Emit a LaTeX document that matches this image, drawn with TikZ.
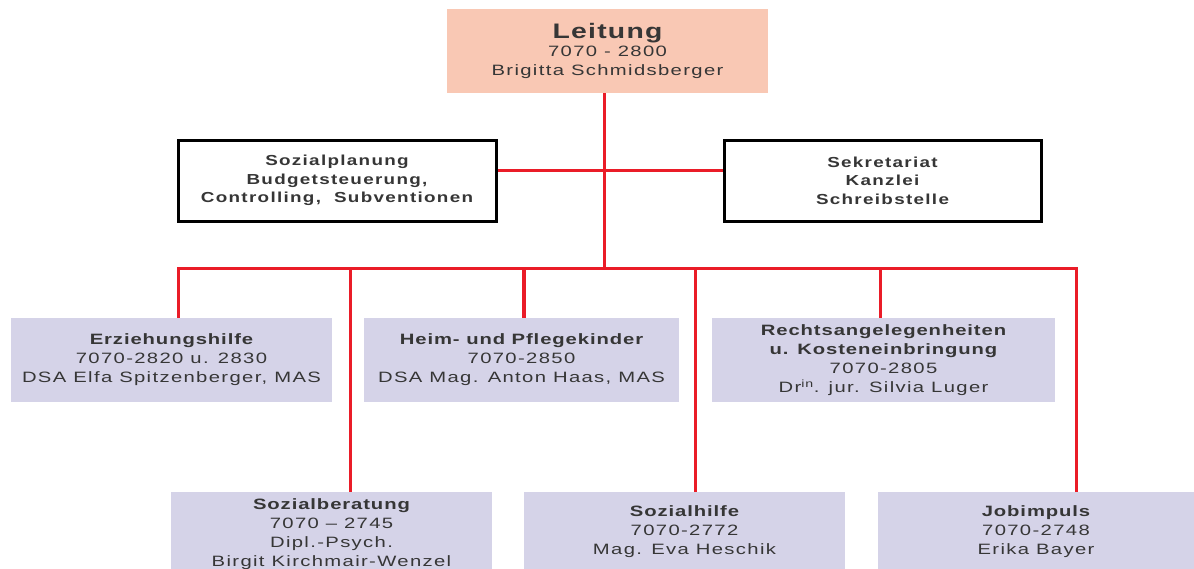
\documentclass[tikz,border=0pt]{standalone}
\usepackage{fontspec}
\setmainfont{Liberation Sans}[FakeStretch=1.35,LetterSpace=9,BoldFeatures={LetterSpace=6}]
\newfontfamily\wfont{Liberation Sans}[FakeStretch=1.3,LetterSpace=9]
\definecolor{salmon}{HTML}{F9C8B4}
\definecolor{lav}{HTML}{D5D3E8}
\definecolor{redline}{HTML}{EA1C28}
\definecolor{txt}{HTML}{363636}
\begin{document}
\begin{tikzpicture}[x=1pt,y=-1pt,
  box/.style={inner sep=0pt,align=center,text=txt,font=\fontsize{15}{19}\selectfont},
  lavbox/.style={box,fill=lav},
  wbox/.style={box,draw=black,line width=3pt,fill=white,font=\fontsize{14.5}{18.5}\wfont\bfseries},
  conn/.style={draw=redline,line width=3pt}]
\useasboundingbox (0,0) rectangle (1194,568);
% boxes
\node[box,fill=salmon,minimum width=321,minimum height=84] (lei) at (607.5,51)
  {{\fontsize{21}{24}\selectfont\bfseries Leitung}\\[-1pt]7070 - 2800\\Brigitta Schmidsberger};
\node[wbox,minimum width=318,minimum height=81] (soz) at (337,180.5)
  {Sozialplanung\\Budgetsteuerung,\\Controlling,\ \ Subventionen};
\node[wbox,minimum width=317,minimum height=81] (sek) at (882.5,180.5)
  {Sekretariat\\Kanzlei\\Schreibstelle};
\node[lavbox,minimum width=321,minimum height=84] (erz) at (171.5,360)
  {\bfseries Erziehungshilfe\\7070-2820 u. 2830\\DSA Elfa Spitzenberger, MAS};
\node[lavbox,minimum width=315,minimum height=84] (hei) at (521.5,360)
  {\bfseries Heim- und Pflegekinder\\7070-2850\\DSA Mag. Anton Haas, MAS};
\node[lavbox,minimum width=343,minimum height=84] (rec) at (883.5,360)
  {\bfseries Rechtsangelegenheiten\\\bfseries u. Kosteneinbringung\\7070-2805\\Dr\textsuperscript{in}. jur. Silvia Luger};
\node[lavbox,minimum width=321,minimum height=84] (sob) at (331.5,534)
  {\bfseries Sozialberatung\\7070 -- 2745\\Dipl.-Psych.\\Birgit Kirchmair-Wenzel};
\node[lavbox,minimum width=321,minimum height=80] (soh) at (684.5,532)
  {\bfseries Sozialhilfe\\7070-2772\\Mag. Eva Heschik};
\node[lavbox,minimum width=316,minimum height=80] (job) at (1036,532)
  {\bfseries Jobimpuls\\7070-2748\\Erika Bayer};
% connector points
\coordinate (j1) at (604,170);
\coordinate (j2) at (604,268);
\coordinate (bL) at (178,268);
\coordinate (bR) at (1076,268);
\coordinate (d2) at (350,268);
\coordinate (d3) at (524,268);
\coordinate (d4) at (695,268);
\coordinate (d5) at (880,268);
% connectors
\draw[conn] (lei.south -| j1) -- (j2);
\draw[conn] (soz.east |- j1) -- (sek.west |- j1);
\draw[conn] (erz.north -| bL) -- (bL) -- (bR) -- (job.north -| bR);
\draw[conn] (d2) -- (sob.north -| d2);
\draw[conn,line width=4.5pt] (d3) -- (hei.north -| d3);
\draw[conn] (d4) -- (soh.north -| d4);
\draw[conn] (d5) -- (rec.north -| d5);
\end{tikzpicture}
\end{document}
